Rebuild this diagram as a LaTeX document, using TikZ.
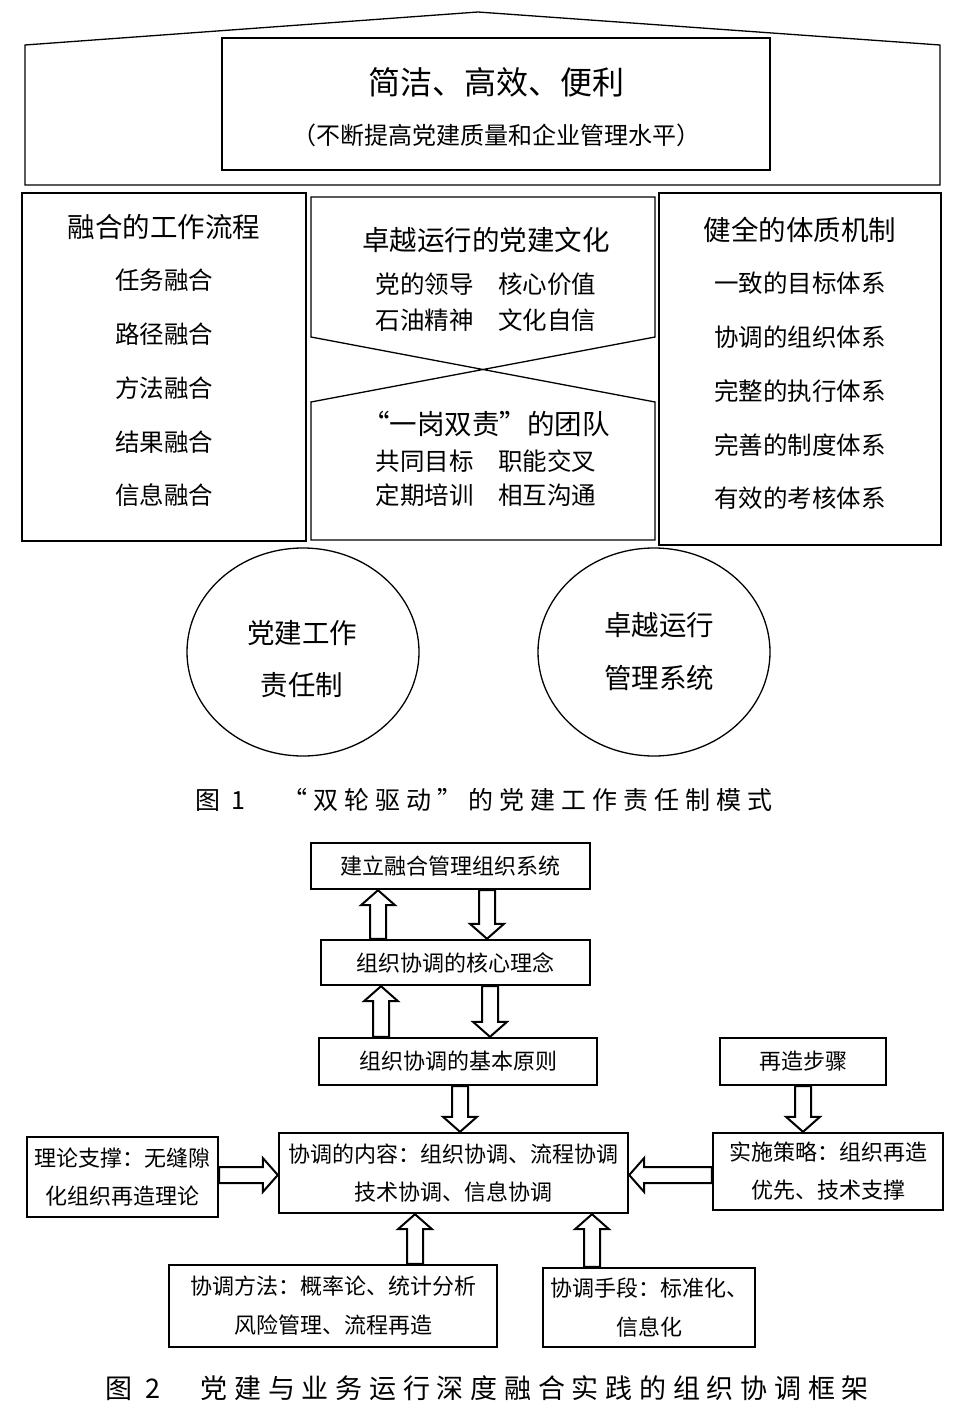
\documentclass[tikz,border=0pt]{standalone}
\usepackage{fontspec}
\setmainfont{Noto Sans CJK SC}
\usetikzlibrary{calc,shapes.geometric}
\newcommand\fsz[1]{\fontsize{#1pt}{#1pt}\selectfont}
% hollow block arrow from #1 to #2
\newcommand\barrow[2]{%
  \draw[blockarr] let \p1=#1, \p2=#2,
     \n1={veclen(\x2-\x1,\y2-\y1)}, \n2={atan2(\y2-\y1,\x2-\x1)} in
     [shift={(\p1)}, rotate=\n2]
     (0pt,8pt) -- ({\n1*1pt-15pt},8pt) -- ({\n1*1pt-15pt},17pt) -- ({\n1*1pt},0pt)
     -- ({\n1*1pt-15pt},-17pt) -- ({\n1*1pt-15pt},-8pt) -- (0pt,-8pt) -- cycle;}
\begin{document}
\begin{tikzpicture}[x=1pt,y=-1pt,
  thin1/.style={line width=1.3pt},
  colbox/.style={draw, thin1, inner sep=0pt},
  txt/.style={inner sep=0pt, font=\fsz{24.5}},
  ttl/.style={inner sep=0pt, font=\fsz{27.5}},
  wheel/.style={draw, thin1, ellipse, inner sep=0pt, minimum width=232pt, minimum height=208pt},
  fbox/.style={draw, line width=2.4pt, inner sep=0pt, align=center, font=\fsz{22}},
  blockarr/.style={draw, line width=2pt, fill=white, line join=miter},
  figcap/.style={inner sep=0pt, font=\fsz{25}\addfontfeature{LetterSpace=24}},
  figcapb/.style={inner sep=0pt, font=\fsz{27}\addfontfeature{LetterSpace=25}}]
\useasboundingbox (0,0) rectangle (953,1415);
\fill[white] (0,0) rectangle (953,1415);

% ---------------- Figure 1 ----------------
\draw[thin1] (25,185) -- (25,45) -- (478,12) -- (940,45) -- (940,185) -- cycle;
\node[colbox, minimum width=548pt, minimum height=132pt] (top) at (496,104) {};
\node[inner sep=0pt, font=\fsz{32}] (t1) at (496,82) {简洁、高效、便利};
\node[inner sep=0pt, font=\fsz{24}] (t2) at (496,135) {（不断提高党建质量和企业管理水平）};

\node[colbox, minimum width=284pt, minimum height=348pt] (L) at (164,367) {};
\node[ttl] (Lt) at (164,227) {融合的工作流程};
\node[txt] (L1) at (164,280) {任务融合};
\node[txt] (L2) at (164,334) {路径融合};
\node[txt] (L3) at (164,388) {方法融合};
\node[txt] (L4) at (164,442) {结果融合};
\node[txt] (L5) at (164,495) {信息融合};

\draw[thin1] (311,337) -- (311,197) -- (655,197) -- (655,337) -- (311,402)
   -- (311,540) -- (655,540) -- (655,402) -- cycle;
\node[ttl] (Mt) at (486,240) {卓越运行的党建文化};
\node[txt] (M1) at (486,284) {党的领导　核心价值};
\node[txt] (M2) at (486,320) {石油精神　文化自信};
\node[ttl] (Nt) at (486,424) {“一岗双责”的团队};
\node[txt] (N1) at (486,461) {共同目标　职能交叉};
\node[txt] (N2) at (486,495) {定期培训　相互沟通};

\node[colbox, minimum width=282pt, minimum height=352pt] (R) at (800,369) {};
\node[ttl] (Rt) at (800,230) {健全的体质机制};
\node[txt] (R1) at (800,283) {一致的目标体系};
\node[txt] (R2) at (800,337) {协调的组织体系};
\node[txt] (R3) at (800,391) {完整的执行体系};
\node[txt] (R4) at (800,445) {完善的制度体系};
\node[txt] (R5) at (800,498) {有效的考核体系};

\node[wheel] (W1) at (303,652) {};
\node[ttl] (W1a) at (302,633) {党建工作};
\node[ttl] (W1b) at (302,685) {责任制};
\node[wheel] (W2) at (654,652) {};
\node[ttl] (W2a) at (659,625) {卓越运行};
\node[ttl] (W2b) at (659,678) {管理系统};

\node[figcap] (cap1) at (484,800) {图 1　“双轮驱动”的党建工作责任制模式};

% ---------------- Figure 2 ----------------
\node[fbox, minimum width=279pt, minimum height=46pt] (A) at (450.5,866) {建立融合管理组织系统};
\node[fbox, minimum width=269pt, minimum height=45pt] (B) at (455.5,962.5) {组织协调的核心理念};
\node[fbox, minimum width=278pt, minimum height=47pt] (C) at (458,1061.5) {组织协调的基本原则};
\node[fbox, minimum width=166pt, minimum height=47pt] (D) at (803,1061.5) {再造步骤};
\node[fbox, minimum width=349pt, minimum height=80pt] (E) at (453.5,1173) {协调的内容：组织协调、流程协调\\[16pt]技术协调、信息协调};
\node[fbox, minimum width=191pt, minimum height=80pt] (F) at (122.5,1177) {理论支撑：无缝隙\\[16pt]化组织再造理论};
\node[fbox, minimum width=230pt, minimum height=77pt] (G) at (828,1171.5) {实施策略：组织再造\\[16pt]优先、技术支撑};
\node[fbox, minimum width=328pt, minimum height=82pt] (H) at (333,1306) {协调方法：概率论、统计分析\\[17pt]风险管理、流程再造};
\node[fbox, minimum width=212pt, minimum height=79pt] (I) at (649,1307.5) {协调手段：标准化、\\[17pt]信息化};

\barrow{([xshift=-77.5pt]B.north)}{([xshift=-72.5pt]A.south)}
\barrow{([xshift=36.5pt]A.south)}{([xshift=31.5pt]B.north)}
\barrow{([xshift=-77pt]C.north)}{([xshift=-74.5pt]B.south)}
\barrow{([xshift=34.5pt]B.south)}{([xshift=32pt]C.north)}
\barrow{([xshift=2pt]C.south)}{([xshift=6.5pt]E.north)}
\barrow{(D.south)}{([xshift=-25pt]G.north)}
\barrow{([yshift=2pt]F.east)}{([yshift=-2pt]E.west)}
\barrow{([yshift=-3.5pt]G.west)}{([yshift=-2pt]E.east)}
\barrow{([xshift=82pt]H.north)}{([xshift=-38.5pt]E.south)}
\barrow{([xshift=-57pt]I.north)}{([xshift=138.5pt]E.south)}

\node[figcapb] (cap2) at (487,1388) {图 2　党建与业务运行深度融合实践的组织协调框架};
\end{tikzpicture}
\end{document}
